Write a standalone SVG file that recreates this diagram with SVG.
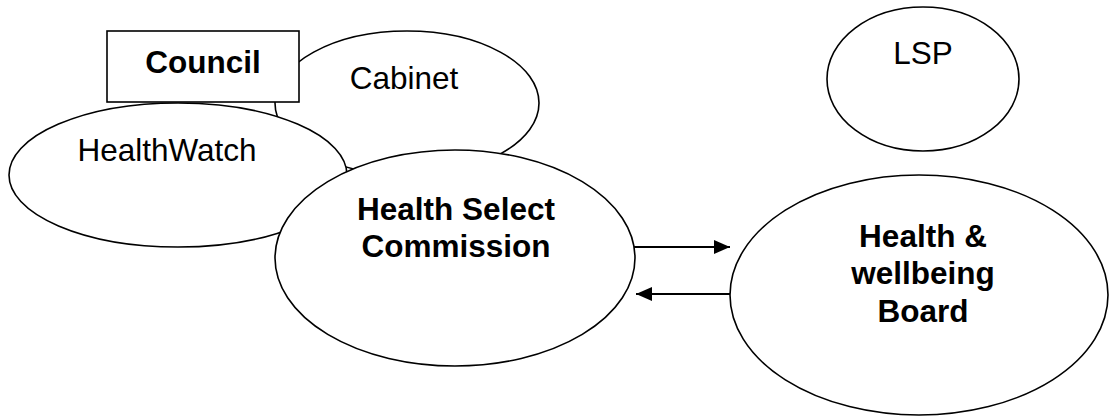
<svg xmlns="http://www.w3.org/2000/svg" width="1110" height="418" viewBox="0 0 1110 418">
  <defs>
    <style>
      .shape { fill: #ffffff; stroke: #000000; stroke-width: 1.6; }
      .label { font-family: "Liberation Sans", Arial, sans-serif; font-size: 31.5px; fill: #000000; text-anchor: middle; }
      .bold { font-weight: bold; }
      .link { stroke: #000000; stroke-width: 1.8; fill: none; }
    </style>
    <marker id="arrowhead" viewBox="0 0 16 14" refX="16" refY="7" markerWidth="16" markerHeight="14" markerUnits="userSpaceOnUse" orient="auto">
      <path d="M0,0 L16,7 L0,14 Z" fill="#000000"/>
    </marker>
  </defs>
  <rect width="1110" height="418" fill="#ffffff"/>

  <g id="cabinet">
    <ellipse class="shape" cx="407" cy="103" rx="132" ry="72"/>
    <text class="label" x="404" y="89">Cabinet</text>
  </g>

  <g id="council">
    <rect class="shape" x="107" y="31" width="192" height="71"/>
    <text class="label bold" x="203" y="73">Council</text>
  </g>

  <g id="healthwatch">
    <ellipse class="shape" cx="178" cy="175" rx="169" ry="72"/>
    <text class="label" x="167" y="161">HealthWatch</text>
  </g>

  <g id="health-select-commission">
    <ellipse class="shape" cx="455" cy="258" rx="180" ry="108"/>
    <text class="label bold" x="456" y="220">Health Select</text>
    <text class="label bold" x="456" y="257">Commission</text>
  </g>

  <g id="lsp">
    <ellipse class="shape" cx="923" cy="79" rx="96" ry="72"/>
    <text class="label" x="923" y="64">LSP</text>
  </g>

  <g id="health-wellbeing-board">
    <ellipse class="shape" cx="919" cy="295" rx="189" ry="120"/>
    <text class="label bold" x="923" y="247">Health &amp;</text>
    <text class="label bold" x="923" y="284">wellbeing</text>
    <text class="label bold" x="923" y="322">Board</text>
  </g>

  <g id="connectors">
    <line class="link" x1="634" y1="247" x2="730" y2="247" marker-end="url(#arrowhead)"/>
    <line class="link" x1="730" y1="294" x2="636" y2="294" marker-end="url(#arrowhead)"/>
  </g>
</svg>
